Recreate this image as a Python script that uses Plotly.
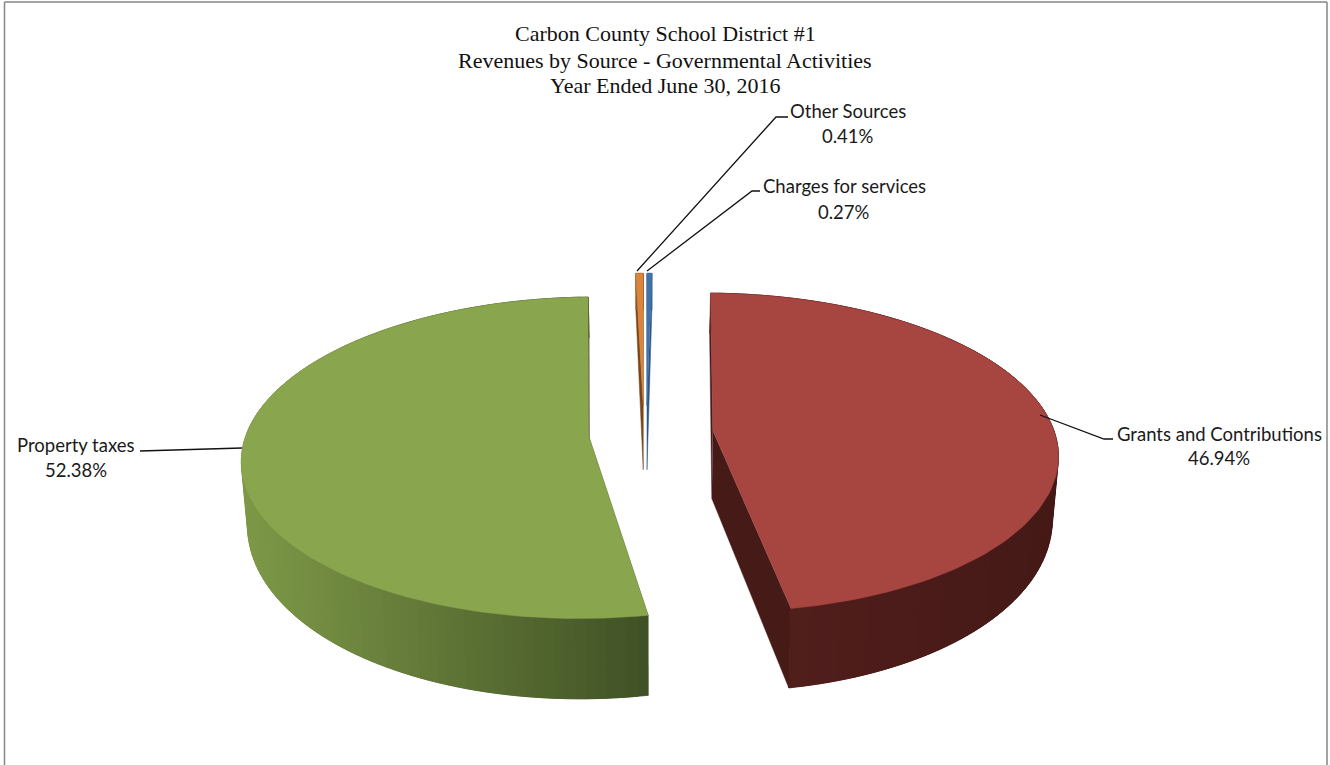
import numpy as np
import plotly.graph_objects as go

# Revenue shares, clockwise from twelve o'clock
sources = ["Charges for services", "Grants and Contributions", "Property taxes", "Other Sources"]
shares = [0.27, 46.94, 52.38, 0.41]
share_labels = ["0.27%", "46.94%", "52.38%", "0.41%"]

title_lines = [
    "Carbon County School District #1",
    "Revenues by Source - Governmental Activities",
    "Year Ended June 30, 2016",
]

top_colors = ["#4272A8", "#A74541", "#89A54E", "#DB843D"]
wall_left = ["#3A659A", "#541F1D", "#7D9847", "#8F5220"]
wall_right = ["#3A659A", "#441916", "#3E4F24", "#8F5220"]
cut_colors = ["#2F5482", "#461A17", "#3E4F24", "#7A4518"]

# Projection of the tilted pie onto the page
CX, CY = 650.0, 433.0
RX, RY = 342.0, 157.0
PERSPECTIVE = 0.136
EXPLODE = 0.18
BASE_SHRINK = 0.985
BASE_DROP, BASE_SLOPE = 60.0, 20.0
HUB_EXTRA_DROP = 8.0
# Sideways shift per slice; the two slivers sit a little left of centre
SLICE_SHIFT = [-3.5, 1.5, 0.0, -6.0]


def project(px, py):
    s = 1.0 / (1.0 - PERSPECTIVE * py)
    return CX + RX * px * s, CY + RY * py * s


def project_base(px, py):
    x, y = project(px, py)
    return CX + (x - CX) * BASE_SHRINK, y + BASE_DROP + BASE_SLOPE * py


def mix(c1, c2, t):
    a = [int(c1[i:i + 2], 16) for i in (1, 3, 5)]
    b = [int(c2[i:i + 2], 16) for i in (1, 3, 5)]
    return "#%02x%02x%02x" % tuple(round(p + (q - p) * t) for p, q in zip(a, b))


def polygon(xs, ys, color):
    return go.Scatter(
        x=list(xs), y=list(ys), mode="lines", fill="toself", fillcolor=color,
        line=dict(color=color, width=0.5), hoverinfo="skip", showlegend=False,
    )


fig = go.Figure()
bounds = np.concatenate([[0], np.cumsum(shares)]) / sum(shares) * 2 * np.pi
cut_traces, wall_traces, top_traces = [], [], []

for i in range(len(shares)):
    start, end = bounds[i], bounds[i + 1]
    mid = (start + end) / 2
    ox, oy = EXPLODE * np.sin(mid), -EXPLODE * np.cos(mid)
    n = max(3, int(np.degrees(end - start) / 1.5))
    theta = np.linspace(start, end, n + 1)
    px, py = ox + np.sin(theta), oy - np.cos(theta)
    shift = SLICE_SHIFT[i]

    top_x, top_y = project(px, py)
    base_x, base_y = project_base(px, py)
    top_x, base_x = top_x + shift, base_x + shift
    cx_top, cy_top = project(ox, oy)
    cx_base, cy_base = project_base(ox, oy)
    cx_top, cx_base = cx_top + shift, cx_base + shift
    cy_base += HUB_EXTRA_DROP

    # Flat cut faces running from the hub to each end of the rim
    for k in (0, -1):
        cut_traces.append(polygon(
            [cx_top, top_x[k], base_x[k], cx_base],
            [cy_top, top_y[k], base_y[k], cy_base],
            cut_colors[i],
        ))

    # Outer wall as narrow strips that overlap their neighbour, so no seams show
    lo, hi = top_x.min(), top_x.max()
    for k in range(n):
        a, b = max(k - 1, 0), min(k + 2, n)
        t = ((top_x[k] + top_x[k + 1]) / 2 - lo) / max(hi - lo, 1)
        wall_traces.append(polygon(
            [top_x[a], top_x[b], base_x[b], base_x[a]],
            [top_y[a], top_y[b], base_y[b], base_y[a]],
            mix(wall_left[i], wall_right[i], t),
        ))

    top_traces.append(polygon(
        np.concatenate([[cx_top], top_x]),
        np.concatenate([[cy_top], top_y]),
        top_colors[i],
    ))

fig.add_traces(cut_traces + wall_traces + top_traces)

# Leader lines from the slices to their labels
leaders = {
    "Charges for services": ([647, 752, 760], [271, 191, 191]),
    "Grants and Contributions": ([1040, 1104, 1113], [415, 439, 439]),
    "Property taxes": ([242, 140], [448, 451]),
    "Other Sources": ([637, 776, 788], [271, 117, 117]),
}
for name in sources:
    lx, ly = leaders[name]
    fig.add_trace(go.Scatter(
        x=lx, y=ly, mode="lines", line=dict(color="#111111", width=1.3),
        hoverinfo="skip", showlegend=False,
    ))

# Label centres on the page: name line, then share line
label_pos = {
    "Charges for services": (844, 186, 212),
    "Grants and Contributions": (1219, 434, 458),
    "Property taxes": (76, 445, 470),
    "Other Sources": (848, 111, 136),
}
annotations = []
for name, pct in zip(sources, share_labels):
    ax, y1, y2 = label_pos[name]
    for text, ay in ((name, y1), (pct, y2)):
        annotations.append(dict(
            x=ax, y=ay, text=text, showarrow=False, xanchor="center", yanchor="middle",
            font=dict(family="Lato", size=18.5, color="#1a1a1a"),
        ))
for text, ay in zip(title_lines, (33, 60, 85)):
    annotations.append(dict(
        x=665, y=ay, text=text, showarrow=False, xanchor="center", yanchor="middle",
        font=dict(family="Liberation Serif", size=22, color="#111111"),
    ))

# Chart frame, open along the bottom of the page
frame = [
    dict(type="line", x0=4.5, x1=4.5, y0=2, y1=765),
    dict(type="line", x0=4.5, x1=1327, y0=2, y1=2),
    dict(type="line", x0=1327, x1=1327, y0=2, y1=765),
]
for shape in frame:
    shape["line"] = dict(color="#868686", width=1.5)

fig.update_layout(
    width=1330, height=765, autosize=False,
    margin=dict(l=0, r=0, t=0, b=0),
    paper_bgcolor="white", plot_bgcolor="white",
    xaxis=dict(range=[0, 1330], visible=False, fixedrange=True),
    yaxis=dict(range=[765, 0], visible=False, fixedrange=True),
    annotations=annotations, shapes=frame,
)
fig.write_html("out.html", config={"displayModeBar": False})
